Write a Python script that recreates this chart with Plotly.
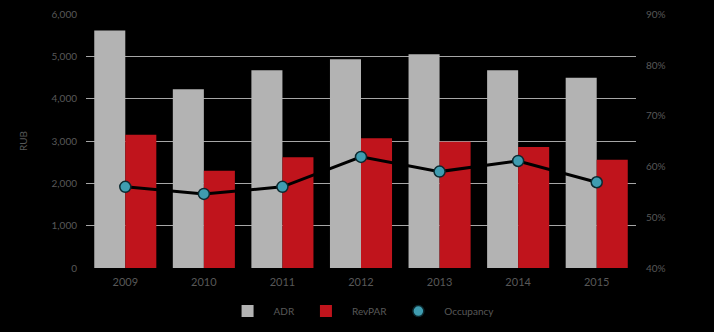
import plotly.graph_objects as go

years = ["2009", "2010", "2011", "2012", "2013", "2014", "2015"]
adr = [5620, 4230, 4680, 4940, 5055, 4680, 4500]
revpar = [3150, 2300, 2620, 3070, 2985, 2865, 2560]
occupancy = [56.0, 54.6, 56.0, 61.9, 59.0, 61.1, 56.9]
occ_ticks = [40, 50, 60, 70, 80, 90]
occ_labels = ["40%", "50%", "60%", "70%", "80%", "90%"]

font_color = "#585858"

fig = go.Figure()
fig.add_trace(go.Bar(x=years, y=adr, name="ADR", marker=dict(color="#b3b3b3", line=dict(width=0))))
fig.add_trace(go.Bar(x=years, y=revpar, name="RevPAR", marker=dict(color="#c0141c", line=dict(width=0))))
fig.add_trace(go.Scatter(x=years, y=occupancy, name="Occupancy", yaxis="y2", mode="lines+markers",
                         line=dict(color="#000000", width=3),
                         marker=dict(color="#3f9cb0", size=11, line=dict(color="#0c2a30", width=1.5))))

fig.update_layout(
    width=714, height=332,
    paper_bgcolor="#000000", plot_bgcolor="#000000",
    margin=dict(l=86, r=78, t=14, b=64, autoexpand=False),
    barmode="group", bargap=0.21, bargroupgap=0,
    font=dict(family="Lato, sans-serif", size=10, color=font_color),
    showlegend=True,
    legend=dict(orientation="h", x=0.505, xanchor="center", xref="container",
                y=0.063, yanchor="middle", yref="container",
                font=dict(size=10, color=font_color), bgcolor="rgba(0,0,0,0)",
                itemwidth=42, traceorder="normal"),
    xaxis=dict(showgrid=False, showline=False, zeroline=False, ticks="", automargin=False,
               ticklabelstandoff=6, tickfont=dict(size=11, color=font_color)),
    yaxis=dict(range=[0, 6008], tickvals=[0, 1000, 2000, 3000, 4000, 5000, 6000],
               tickformat=",d", showgrid=True, gridcolor="#a6a6a6", gridwidth=1,
               zeroline=False, showline=False, ticks="", automargin=False, ticklabelstandoff=8,
               title=dict(text="RUB", font=dict(size=10, color=font_color), standoff=22)),
    yaxis2=dict(range=[40, 90.067], overlaying="y", side="right", tickvals=occ_ticks, automargin=False,
                ticklabelstandoff=9,
                ticktext=occ_labels, showgrid=False, zeroline=False, showline=False, ticks=""),
)

fig.write_html("out.html", config={"displayModeBar": False},
               post_script="document.body.style.margin='0';document.body.style.background='#000';")
